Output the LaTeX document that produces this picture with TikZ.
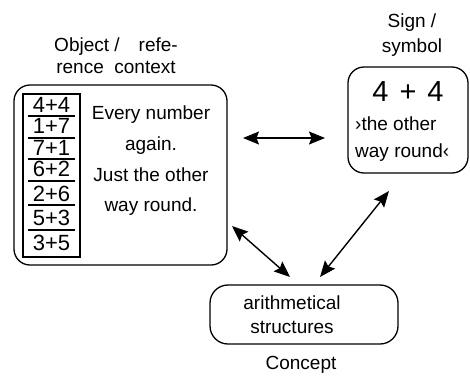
\documentclass[tikz,border=0pt]{standalone}
\usepackage{fontspec}
\setmainfont{Liberation Sans}
\usetikzlibrary{arrows.meta}
\begin{document}
\begin{tikzpicture}[x=1pt,y=-1pt,
  box/.style={draw,line width=1.3pt,rounded corners=16pt,inner sep=0},
  txt/.style={font=\fontsize{19}{24}\selectfont,align=center,inner sep=0},
  hw/.style={font=\fontsize{22}{22}\selectfont,inner sep=0},
  uline/.style={line width=1.1pt},
  tip/.tip={Stealth[length=16pt,width=13pt,inset=2.5pt]},
  biarrow/.style={line width=1.4pt,tip-tip}
]
\useasboundingbox (0,0) rectangle (470,376);
% boxes
\node[box,minimum width=213pt,minimum height=180pt] (obj) at (120.5,175) {};
\node[box,minimum width=120pt,minimum height=106pt] (sign) at (408,120) {};
\node[box,rounded corners=18pt,minimum width=188pt,minimum height=59pt] (conc) at (304,314.5) {};
% table of sums
\node[draw,line width=1.3pt,minimum width=57pt,minimum height=163pt,inner sep=0] (tbl) at (51.5,175.5) {};
\node[hw] (r1) at (51.5,105) {4+4};
\node[hw] (r2) at (51.5,126) {1+7};
\node[hw] (r3) at (51.5,148) {7+1};
\node[hw] (r4) at (51.5,169) {6+2};
\node[hw] (r5) at (51.5,194) {2+6};
\node[hw] (r6) at (51.5,218) {5+3};
\node[hw] (r7) at (51.5,243) {3+5};
\foreach \yy/\n in {116/1,138/2,159/3,181/4,205/5,230/6}{
  \coordinate (ul\n) at (28,\yy);
  \coordinate (ur\n) at (75,\yy);
  \draw[uline] (ul\n) -- (ur\n);
}
% texts
\node[txt,font=\fontsize{19}{30.7}\selectfont] (objtxt) at (151,161) {Every number\\again.\\Just the other\\way round.};
\node[txt,font=\fontsize{19}{22}\selectfont] (objlbl) at (116,56) {Object /\quad refe-\\rence\ \ context};
\node[txt,font=\fontsize{19}{25}\selectfont] (signlbl) at (412,35) {Sign /\\symbol};
\node[inner sep=0,font=\fontsize{29}{29}\selectfont] (sum) at (408,92) {4\hspace{11pt}+\hspace{11pt}4};
\node[txt,align=left,font=\fontsize{19}{27}\selectfont,anchor=west] (signtxt) at (355,139) {›the other\\way round‹};
\node[txt] (conctxt) at (292,315) {arithmetical\\structures};
\node[txt] (conclbl) at (301,365) {Concept};
% arrows
\coordinate (h1) at (243,138);
\coordinate (h2) at (325,138);
\coordinate (d1) at (232,226);
\coordinate (d2) at (290,277);
\coordinate (e1) at (320,277);
\coordinate (e2) at (389,191);
\draw[biarrow] (h1) -- (h2);
\draw[biarrow] (d1) -- (d2);
\draw[biarrow] (e1) -- (e2);
\end{tikzpicture}
\end{document}
